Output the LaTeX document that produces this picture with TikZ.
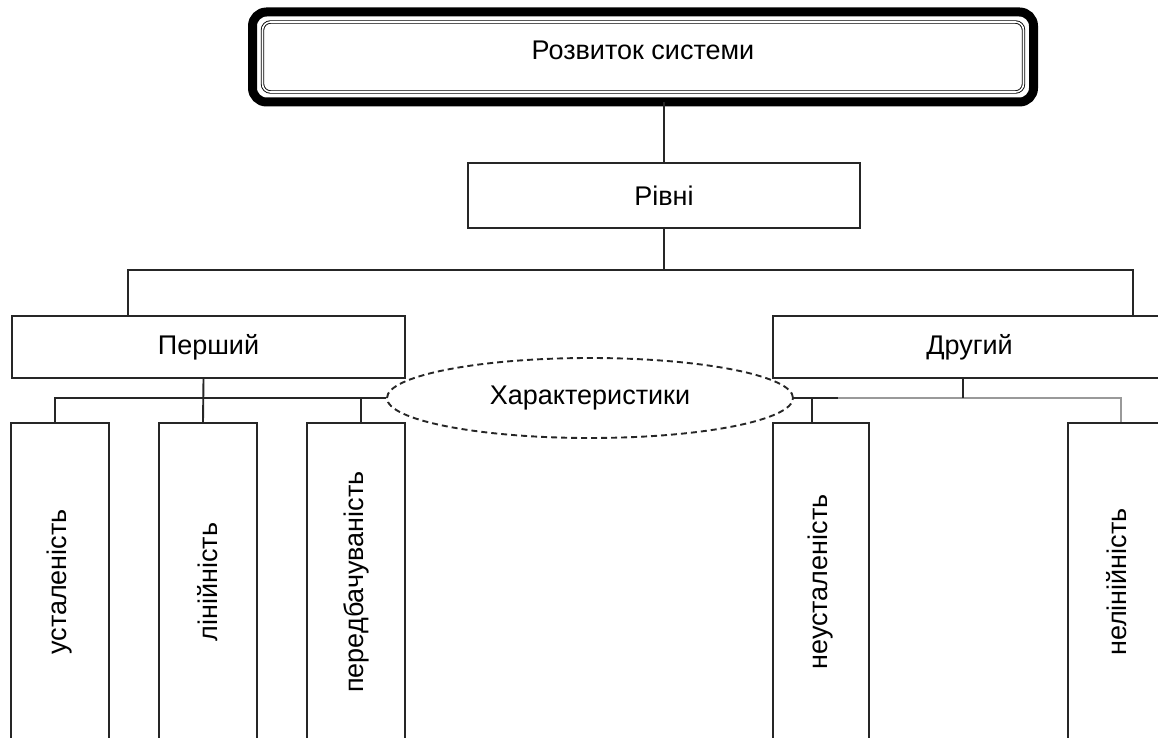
\documentclass[tikz,border=0pt]{standalone}
\usepackage{fontspec}
\usepackage{graphicx}
\setmainfont{Liberation Sans}
\usetikzlibrary{shapes.geometric}
\newcommand{\rotlabel}[1]{\rotatebox{90}{#1}\hspace{12pt}}
\begin{document}
\begin{tikzpicture}[x=1pt, y=-1pt,
    every node/.style={font=\fontsize{27}{32}\selectfont, text=black},
    box/.style={draw=black!85, line width=1.9pt, rectangle, inner sep=0pt},
    leaf/.style={box, minimum width=98pt, minimum height=318pt},
    link/.style={draw=black!85, line width=1.9pt}]
    \useasboundingbox (0,0) rectangle (1158,738);
    \clip (0,0) rectangle (1158,738);

    % Верхній блок з подвійною рамкою
    \node[draw, line width=9pt, outer sep=0pt, rounded corners=14pt,
          text height=20pt, text depth=15.7pt,
          minimum width=781pt, minimum height=90pt] (sys) at (643,57) {Розвиток системи};
    \draw[double, line width=0.9pt, double distance=1.6pt, rounded corners=8pt]
        ([shift={(10pt,-10pt)}]sys.north west) rectangle ([shift={(-10pt,10pt)}]sys.south east);

    % Рівні
    \node[box, minimum width=392pt, minimum height=65pt] (rivni) at (664,195.5) {Рівні};
    \node[box, minimum width=393pt, minimum height=62pt] (pershyi) at (208.5,347) {Перший};
    \node[box, minimum width=393pt, minimum height=62pt] (druhyi) at (969.5,347) {Другий};

    % Характеристики
    \node[ellipse, draw=black!85, line width=1.9pt, dash pattern=on 6pt off 4pt,
          minimum width=406pt, minimum height=80pt, inner sep=0pt] (char) at (590,398) {Характеристики};

    \node[leaf] (u1) at (60,582) {\rotlabel{усталеність}};
    \node[leaf] (u2) at (208,582) {\rotlabel{лінійність}};
    \node[leaf] (u3) at (356,582) {\rotlabel{передбачуваність}};
    \node[leaf, minimum width=96pt] (u4) at (821,582) {\rotlabel{неусталеність}};
    \node[leaf] (u5) at (1117,582) {\rotlabel{нелінійність}};

    % Зв'язки
    \coordinate (lv1) at (128,270);
    \coordinate (lv2) at (1133,270);
    \draw[link] (sys.south -| rivni.north) -- (rivni.north);
    \draw[link] (rivni.south) -- (rivni.south |- lv1);
    \draw[link] (pershyi.north -| lv1) |- (lv2) -- (druhyi.north -| lv2);

    \draw[link] ([xshift=-5pt]u1.north) |- (char.west);
    \draw[link] ([xshift=-5pt]pershyi.south) -- ([xshift=-5pt]u2.north);
    \draw[link] ([xshift=5pt]u3.north) -- ([xshift=5pt]u3.north |- char.west);

    \draw[link, draw=black!40] (char.east) -| ([xshift=4pt]u5.north);
    \draw[link] (char.east) -- ++(44pt,0);
    \draw[link] ([xshift=-9pt]u4.north) -- ([xshift=-9pt]u4.north |- char.east);
    \draw[link] ([xshift=-6.5pt]druhyi.south) -- ([xshift=-6.5pt]druhyi.south |- char.east);
\end{tikzpicture}
\end{document}
